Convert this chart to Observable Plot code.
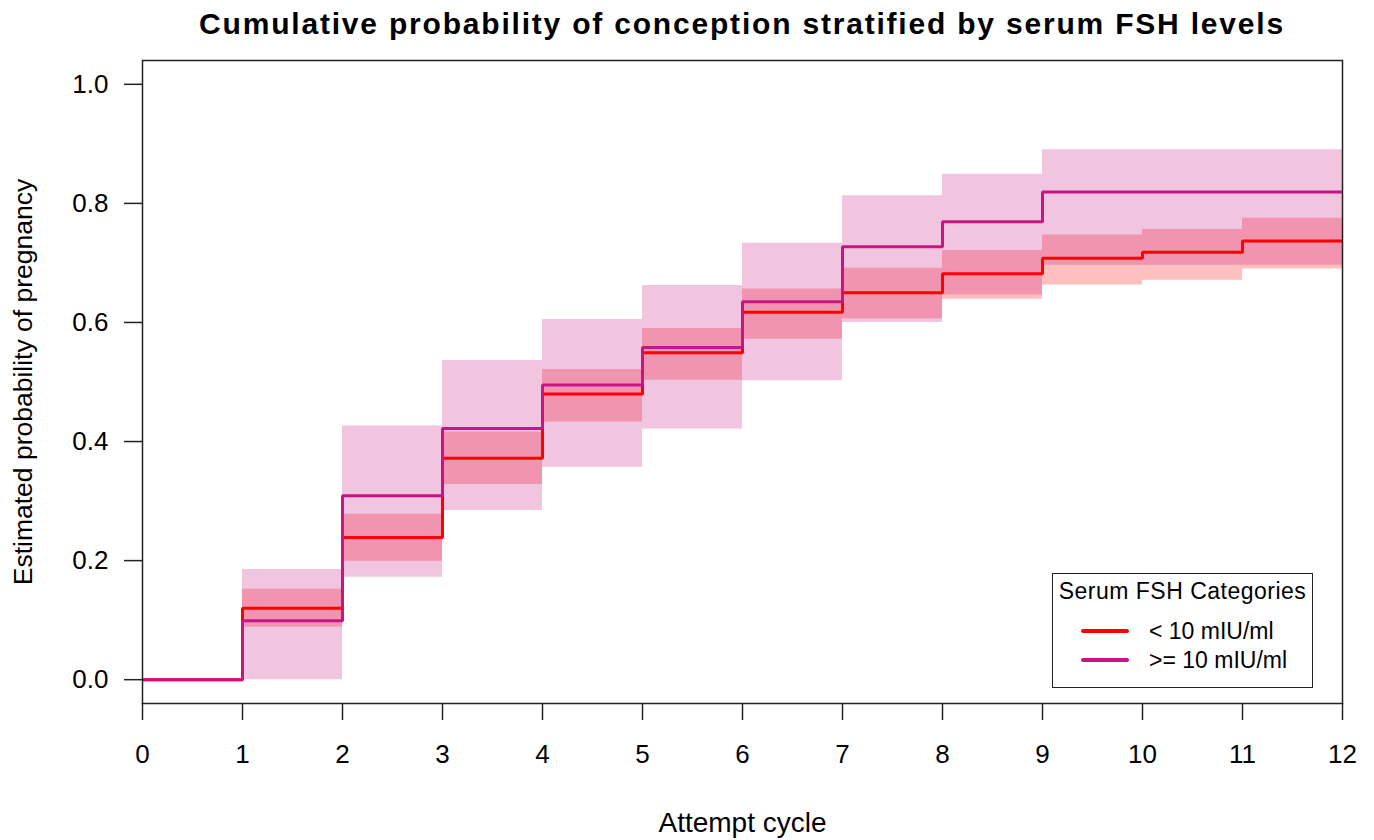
<!DOCTYPE html>
<html>
<head>
<meta charset="utf-8">
<script src="https://cdn.jsdelivr.net/npm/d3@7"></script>
<script src="https://cdn.jsdelivr.net/npm/@observablehq/plot@0.6"></script>
<style>
  html, body { margin: 0; padding: 0; background: #fff; }
  body { font-family: "Liberation Sans", Arial, Helvetica, sans-serif; }
  #wrap { position: relative; width: 1374px; height: 840px; overflow: hidden; }
  #chart { position: absolute; left: 0; top: 0; }
  #title { position: absolute; left: 92px; width: 1300px; top: 9px; text-align: center;
           font-weight: bold; font-size: 30px; letter-spacing: 1.8px; line-height: 1; color: #000; white-space: nowrap; }
  #legend { position: absolute; left: 1052px; top: 573px; width: 259px; height: 113px;
            border: 1.5px solid #222; background: #fff; font-size: 23px; line-height: 1; color: #000; }
  #legend .ttl { position: absolute; left: 0; width: 100%; top: 6px; text-align: center; white-space: nowrap; letter-spacing: 0.5px; }
  #legend .sw { position: absolute; left: 28px; width: 48px; height: 4px; border-radius: 2px; }
  #legend .lab { position: absolute; left: 96px; white-space: nowrap; }
</style>
</head>
<body>
<div id="wrap">
  <div id="chart"></div>
  <div id="title"></div>
  <div id="legend"></div>
</div>
<script>
// ---- data ----
const chartTitle = "Cumulative probability of conception stratified by serum FSH levels";
const xLabel = "Attempt cycle";
const yLabel = "Estimated probability of pregnancy";
const legendTitle = "Serum FSH Categories";

// start of each attempt-cycle interval; curves run to the last cycle
const cycles = [0, 1, 2, 3, 4, 5, 6, 7, 8, 9, 10, 11];
const lastCycle = 12;

const groups = ["< 10 mIU/ml", ">= 10 mIU/ml"];
const groupColors = ["#FF0000", "#C71585"];

// < 10 mIU/ml
const lowEst   = [0, 0.120, 0.239, 0.372, 0.480, 0.549, 0.617, 0.650, 0.682, 0.708, 0.718, 0.737];
const lowLower = [0, 0.088, 0.199, 0.328, 0.433, 0.503, 0.572, 0.606, 0.639, 0.663, 0.671, 0.690];
const lowUpper = [0, 0.152, 0.278, 0.416, 0.521, 0.590, 0.656, 0.691, 0.721, 0.747, 0.756, 0.775];

// >= 10 mIU/ml
const highEst   = [0, 0.099, 0.309, 0.422, 0.495, 0.558, 0.635, 0.727, 0.769, 0.819, 0.819, 0.819];
const highLower = [0, 0.000, 0.172, 0.284, 0.357, 0.421, 0.502, 0.600, 0.646, 0.696, 0.696, 0.696];
const highUpper = [0, 0.185, 0.426, 0.536, 0.605, 0.662, 0.733, 0.813, 0.849, 0.890, 0.890, 0.890];

const xTicks = [0, 1, 2, 3, 4, 5, 6, 7, 8, 9, 10, 11, 12];
const yTicks = [0, 0.2, 0.4, 0.6, 0.8, 1.0];

// ---- build step tables ----
function stepRows(group, est, lo, hi) {
  const rows = cycles.map((c, i) => ({group, cycle: c, est: est[i], lo: lo[i], hi: hi[i]}));
  const n = est.length - 1;
  rows.push({group, cycle: lastCycle, est: est[n], lo: lo[n], hi: hi[n]});
  return rows;
}
const lowRows = stepRows(groups[0], lowEst, lowLower, lowUpper);
const highRows = stepRows(groups[1], highEst, highLower, highUpper);

const font = "'Liberation Sans', Arial, Helvetica, sans-serif";

const chart = Plot.plot({
  width: 1374,
  height: 840,
  marginLeft: 142,
  marginRight: 32,
  marginTop: 60,
  marginBottom: 137,
  style: {fontFamily: font, background: "#fff", color: "#000", overflow: "visible"},
  x: {domain: [0, 12]},
  y: {domain: [-0.04, 1.04]},
  marks: [
    Plot.areaY(lowRows, {x: "cycle", y1: "lo", y2: "hi", curve: "step-after", fill: groupColors[0], fillOpacity: 0.25}),
    Plot.areaY(highRows, {x: "cycle", y1: "lo", y2: "hi", curve: "step-after", fill: groupColors[1], fillOpacity: 0.25}),
    Plot.line(lowRows, {x: "cycle", y: "est", curve: "step-after", stroke: groupColors[0], strokeWidth: 3, strokeLinejoin: "miter", strokeLinecap: "butt"}),
    Plot.line(highRows, {x: "cycle", y: "est", curve: "step-after", stroke: groupColors[1], strokeWidth: 3, strokeLinejoin: "miter", strokeLinecap: "butt"}),
    Plot.frame({stroke: "#222", strokeWidth: 1.5}),
    Plot.axisX({ticks: xTicks, tickFormat: d => String(d), tickSize: 17, tickPadding: 24, fontSize: 26,
                strokeWidth: 1.5, stroke: "#222", label: null}),
    Plot.axisY({ticks: yTicks, tickFormat: d => d.toFixed(1), tickSize: 18, tickPadding: 16, fontSize: 26,
                strokeWidth: 1.5, stroke: "#222", label: null}),
    Plot.axisX({ticks: [], tickSize: 0, strokeWidth: 0,
                label: xLabel, labelAnchor: "center", labelOffset: 128, labelArrow: "none", fontSize: 28}),
    Plot.axisY({ticks: [], tickSize: 0, strokeWidth: 0,
                label: yLabel, labelAnchor: "center", labelOffset: 129, labelArrow: "none", fontSize: 26.5})
  ]
});
document.getElementById("chart").appendChild(chart);

// ---- title ----
document.getElementById("title").textContent = chartTitle;

// ---- legend ----
const legend = document.getElementById("legend");
const t = document.createElement("div");
t.className = "ttl";
t.textContent = legendTitle;
legend.appendChild(t);
const rowCenters = [57, 86];
groups.forEach((g, i) => {
  const sw = document.createElement("div");
  sw.className = "sw";
  sw.style.background = groupColors[i];
  sw.style.top = (rowCenters[i] - 2) + "px";
  legend.appendChild(sw);
  const lab = document.createElement("div");
  lab.className = "lab";
  lab.textContent = g;
  lab.style.top = (rowCenters[i] - 11.2) + "px";
  legend.appendChild(lab);
});
</script>
</body>
</html>
